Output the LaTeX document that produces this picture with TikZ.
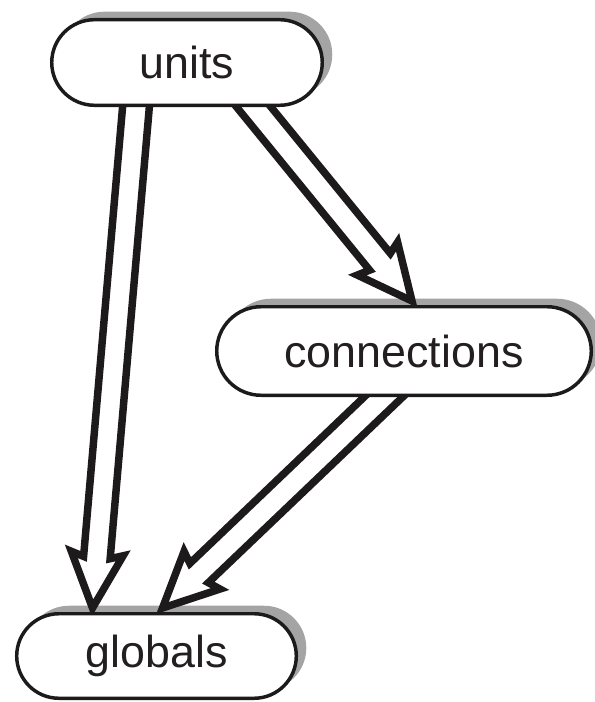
\documentclass[tikz,border=0pt]{standalone}
\usepackage{fontspec}
\setmainfont{Liberation Sans}
\usetikzlibrary{calc,shapes.misc}

\definecolor{linec}{HTML}{1C1A1A}
\definecolor{textc}{HTML}{231F20}
\definecolor{shadowc}{HTML}{A4A4A4}

\pgfdeclarelayer{shade}
\pgfdeclarelayer{links}
\pgfsetlayers{shade,links,main}

\tikzset{
  stadium/.style={rounded rectangle, draw=linec, line width=2.6pt, fill=white,
    text=textc, font=\fontsize{33.6}{40}\selectfont, inner sep=0pt},
  shadowbox/.style={rounded rectangle, fill=shadowc, draw=none, inner sep=0pt},
  arrowline/.style={draw=linec, fill=white, line width=5.6pt, line join=miter, miter limit=4},
}

% hollow block arrow from #1 to #2 (tip at #2), with slightly swept barbs
\newcommand\hollowarrow[2]{%
  \path (#1) coordinate (ha-s) (#2) coordinate (ha-e);
  \path ($(ha-e)!38pt!(ha-s)$) coordinate (ha-b)
        ($(ha-e)!41pt!(ha-s)$) coordinate (ha-w);
  \draw[arrowline]
    ($(ha-s)!10pt!90:(ha-e)$) -- ($(ha-b)!10pt!90:(ha-e)$)
    -- ($(ha-w)!19.5pt!90:(ha-e)$) -- (ha-e)
    -- ($(ha-w)!19.5pt!-90:(ha-e)$) -- ($(ha-b)!10pt!-90:(ha-e)$)
    -- ($(ha-s)!10pt!-90:(ha-e)$) -- cycle;
}

\begin{document}
\begin{tikzpicture}[x=0.75pt,y=-0.75pt]
  \useasboundingbox (0,0) rectangle (595,702);

  % boxes
  \node[stadium, minimum width=202.9pt, minimum height=64.2pt] (units) at (187,62.5) {units};
  \node[stadium, minimum width=280.9pt, minimum height=66.4pt] (connections) at (404,351) {connections};
  \node[stadium, minimum width=209.7pt, minimum height=63.4pt] (globals) at (156.5,656) {globals};

  % drop shadows, offset up and to the right
  \begin{pgfonlayer}{shade}
    \node[shadowbox, minimum width=202.9pt, minimum height=64.2pt] at ($(units)+(10,-8)$) {};
    \node[shadowbox, minimum width=280.9pt, minimum height=66.4pt] at ($(connections)+(10,-8)$) {};
    \node[shadowbox, minimum width=209.7pt, minimum height=63.4pt] at ($(globals)+(10,-8)$) {};
  \end{pgfonlayer}

  % dependency arrows
  \begin{pgfonlayer}{links}
    \hollowarrow{$(units.south)+(-50,-12)$}{$(globals.north)+(-64,-4)$}
    \hollowarrow{$(units.south)+(57,-12)$}{$(connections.north)+(8,-4)$}
    \hollowarrow{$(connections.south)+(-8,-12)$}{$(globals.north)+(6,-4)$}
  \end{pgfonlayer}
\end{tikzpicture}
\end{document}
